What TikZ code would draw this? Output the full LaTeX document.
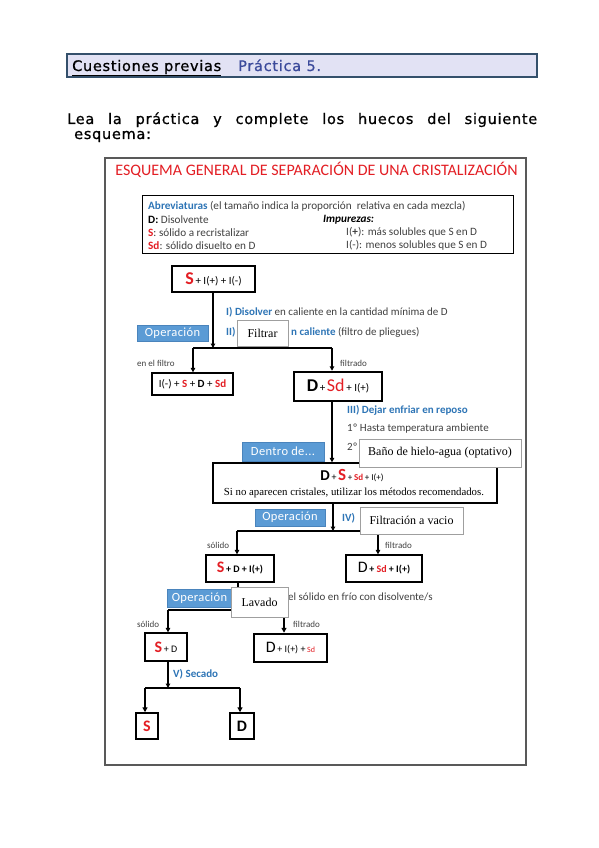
\documentclass[tikz,border=0pt]{standalone}
\usepackage{fontspec}
\setmainfont{Carlito}
\newfontfamily\hdr[LetterSpace=5, FakeBold=0.8]{DejaVu Sans}
\newfontfamily\tnr{Liberation Serif}
\newfontfamily\opf[LetterSpace=3]{Carlito}
\usetikzlibrary{arrows.meta}
\definecolor{rd}{HTML}{E31E24}
\definecolor{bl}{HTML}{2E75B6}
\definecolor{gtx}{HTML}{404040}
\definecolor{opfill}{HTML}{5B9BD5}
\definecolor{opdraw}{HTML}{4A84BC}
\definecolor{hdrf}{HTML}{E2E2F4}
\definecolor{hdrb}{HTML}{34506B}
\definecolor{hdrt}{HTML}{3B4A9B}
\definecolor{outc}{HTML}{595959}
\newcommand{\fs}[1]{\fontsize{#1}{#1}\selectfont}
\begin{document}
\begin{tikzpicture}[x=1pt,y=-1pt,
  flowbox/.style={draw=black, line width=1.3pt, fill=white, inner sep=0},
  thickbox/.style={flowbox, line width=2.5pt},
  opbox/.style={fill=opfill, draw=opdraw, line width=0.5pt, text=white, inner sep=0, font=\opf\fs{12.5}},
  overbox/.style={fill=white, draw=gray!75, line width=1pt, inner sep=0, font=\tnr\fs{12}},
  lbl/.style={inner sep=0, anchor=west, text=gtx, font=\fs{11}},
  small/.style={inner sep=0, anchor=west, text=gtx, font=\fs{9}},
  conn/.style={line width=1.4pt},
  arr/.style={line width=1.4pt, -{Triangle[length=4.5pt,width=4.5pt]}},
  tarr/.style={line width=2.3pt, -{Triangle[length=5pt,width=5pt]}}]
\useasboundingbox (0,0) rectangle (599,848);
\fill[white] (0,0) rectangle (599,848);

% header
\node[draw=hdrb, line width=2pt, fill=hdrf, minimum width=470, minimum height=23, inner sep=0] (hdrbox) at (302,65.5) {};
\node[anchor=base west, inner sep=0] (cq) at (72,71) {\hdr\fs{14.5}\underline{Cuestiones previas}};
\node[anchor=base west, inner sep=0, text=hdrt] (pr) at (238,71) {\hdr\fs{14.5}Práctica 5.};

\node[anchor=base west, inner sep=0] (lea1) at (67,124) {\hdr\fs{14.5}\makebox[470pt][s]{Lea la práctica y complete los huecos del siguiente}};
\node[anchor=base west, inner sep=0] (lea2) at (74,139) {\hdr\fs{14.5}esquema:};

% outer frame
\node[draw=outc, line width=1.5pt, minimum width=421, minimum height=607, inner sep=0] (outer) at (315.5,461.5) {};
\node[inner sep=0, text=rd] (title) at (316.5,170) {\fs{16}ESQUEMA GENERAL DE SEPARACIÓN DE UNA CRISTALIZACIÓN};

% abbreviations
\node[draw=black, line width=1pt, minimum width=371, minimum height=58, inner sep=0] (abbr) at (327.5,224) {};
\node[lbl, font=\fs{11.2}] (ab1) at (148,206.5) {\textcolor{bl}{\bfseries Abreviaturas} (el tamaño indica la proporción\ \ relativa en cada mezcla)};
\node[lbl, font=\fs{11.2}] (ab2) at (148,219.5) {\textcolor{black}{\bfseries D:} Disolvente};
\node[lbl, font=\fs{11.2}] (ab3) at (148,232.5) {\textcolor{rd}{\bfseries S}: sólido a recristalizar};
\node[lbl, font=\fs{11.2}] (ab4) at (148,245.5) {\textcolor{rd}{\bfseries Sd}: sólido disuelto en D};
\node[lbl, font=\fs{11.2}] (ab5) at (323,219.5) {\textcolor{black}{\bfseries\itshape Impurezas:}};
\node[lbl, font=\fs{11.2}] (ab6) at (346,232.5) {I(\textbf{+}): más solubles que S en D};
\node[lbl, font=\fs{11.2}] (ab7) at (346,245.5) {I(-): menos solubles que S en D};

% flow boxes
\node[flowbox, line width=2pt, minimum width=83, minimum height=26] (s1) at (213.5,279) {\textcolor{rd}{\bfseries\fs{18}S}\,{\fs{11}+ I(+) + I(-)}};
\node[flowbox, minimum width=81, minimum height=22] (fl) at (192.5,384) {\fs{11}I(-) + \textcolor{rd}{\bfseries S} + \textbf{D} + \textcolor{rd}{\bfseries Sd}};
\node[thickbox, minimum width=88, minimum height=29] (dsd) at (338,386.5) {{\bfseries\fs{18}D}\,{\fs{11}+}\,\textcolor{rd}{\fs{18}Sd}\,{\fs{11}+ I(+)}};
\node[flowbox, minimum width=284, minimum height=40] (big) at (355,483) {};
\node[inner sep=0] (bigt1) at (352,476) {{\bfseries\fs{15}D}\,{\fs{10}+}\,\textcolor{rd}{\bfseries\fs{17}S}\,{\fs{9}+}\,\textcolor{rd}{\bfseries\fs{9}Sd}\,{\fs{9}+ I(+)}};
\node[inner sep=0] (bigt2) at (354,493) {\tnr\fs{10.8}Si no aparecen cristales, utilizar los métodos recomendados.};
\node[flowbox, minimum width=68, minimum height=27] (sdi) at (240,568.5) {\textcolor{rd}{\bfseries\fs{16}S}\,{\fs{10}\bfseries + D + I(+)}};
\node[flowbox, minimum width=76, minimum height=27] (dsdi) at (384,568.5) {{\fs{16}D}\,{\fs{10}\bfseries + \textcolor{rd}{Sd} + I(+)}};
\node[flowbox, minimum width=42, minimum height=28] (sd) at (166,647) {\textcolor{rd}{\bfseries\fs{16}S}\,{\fs{10}+ D}};
\node[thickbox, minimum width=73, minimum height=28] (dis) at (290.5,648) {{\fs{16}D}\,{\fs{10}+ I(+) +}\,\textcolor{rd}{\fs{8}Sd}};
\node[flowbox, line width=1.5pt, minimum width=22, minimum height=26] (sf) at (147,726) {\textcolor{rd}{\bfseries\fs{16}S}};
\node[flowbox, line width=1.5pt, minimum width=24, minimum height=26] (df) at (242,726) {{\bfseries\fs{16}D}};

% connectors
\coordinate (j1) at (213,348);
\coordinate (j1l) at (193,348);
\coordinate (j1r) at (332,348);
\draw[arr] (s1.south -| j1) -- (j1);
\draw[conn] (j1l) -- (j1r);
\draw[arr] (j1l) -- (j1l |- fl.north);
\draw[arr] (j1r) -- (j1r |- dsd.north);
\draw[arr] (dsd.south -| j1r) -- (j1r |- big.north);

\coordinate (j2) at (333,531);
\coordinate (j2l) at (237,531);
\coordinate (j2r) at (378,531);
\draw[arr] (big.south -| j2) -- (j2);
\draw[conn] (j2l) -- (j2r);
\draw[arr] (j2l) -- (j2l |- sdi.north);
\draw[arr] (j2r) -- (j2r |- dsdi.north);

\coordinate (j3) at (238,610);
\coordinate (j3l) at (168,610);
\coordinate (j3r) at (284,610);
\draw[conn] (sdi.south -| j3) -- (j3);
\draw[conn] (j3l) -- (j3r);
\draw[arr] (j3l) -- (j3l |- sd.north);
\draw[tarr] (j3r) -- (j3r |- dis.north);

\coordinate (j4) at (168,688);
\coordinate (j4l) at (145,688);
\coordinate (j4r) at (240,688);
\draw[arr] (sd.south -| j4) -- (j4);
\draw[line width=2.3pt] (j4l) -- (j4r);
\draw[tarr] (j4l) -- (j4l |- sf.north);
\draw[tarr] (j4r) -- (j4r |- df.north);

% step texts
\node[lbl] (t1) at (226,312) {\textcolor{bl}{\bfseries I) Disolver} en caliente en la cantidad mínima de D};
\node[lbl] (t2a) at (226,332) {\textcolor{bl}{\bfseries II)}};
\node[lbl] (t2b) at (291,332) {\textcolor{bl}{\bfseries n caliente} (filtro de pliegues)};
\node[small] (lf1) at (137,363) {en el filtro};
\node[small] (lf2) at (340,363) {filtrado};
\node[lbl] (t3) at (347,410) {\textcolor{bl}{\bfseries III) Dejar enfriar en reposo}};
\node[lbl] (t3a) at (347,428.5) {1º Hasta temperatura ambiente};
\node[lbl] (t3b) at (347,447) {2º};
\node[lbl] (t4) at (342,518) {\textcolor{bl}{\bfseries IV)}};
\node[small] (lf3) at (207,545) {sólido};
\node[small] (lf4) at (385,545) {filtrado};
\node[lbl] (t5) at (288,597) {el sólido en frío con disolvente/s};
\node[small] (lf5) at (137,624) {sólido};
\node[small] (lf6) at (293,624) {filtrado};
\node[lbl] (t6) at (173,674) {\textcolor{bl}{\bfseries V) Secado}};

% operation tags
\node[opbox, minimum width=71, minimum height=16] (op1) at (172.5,333) {Operación};
\node[opbox, minimum width=82, minimum height=19] (dentro) at (283,451.5) {Dentro de...};
\node[opbox, minimum width=70, minimum height=17] (op2) at (290,517.5) {Operación};
\node[opbox, minimum width=65, minimum height=18] (op3) at (199.5,598) {Operación};

% answer boxes
\node[overbox, minimum width=51, minimum height=26] (filtrar) at (262.5,333) {Filtrar};
\node[overbox, minimum width=162, minimum height=28] (bano) at (440,453) {Baño de hielo-agua (optativo)};
\node[overbox, minimum width=103, minimum height=27] (fvac) at (411.5,520.5) {Filtración a vacio};
\node[overbox, minimum width=57, minimum height=30] (lavado) at (259.5,602) {Lavado};
\end{tikzpicture}
\end{document}
